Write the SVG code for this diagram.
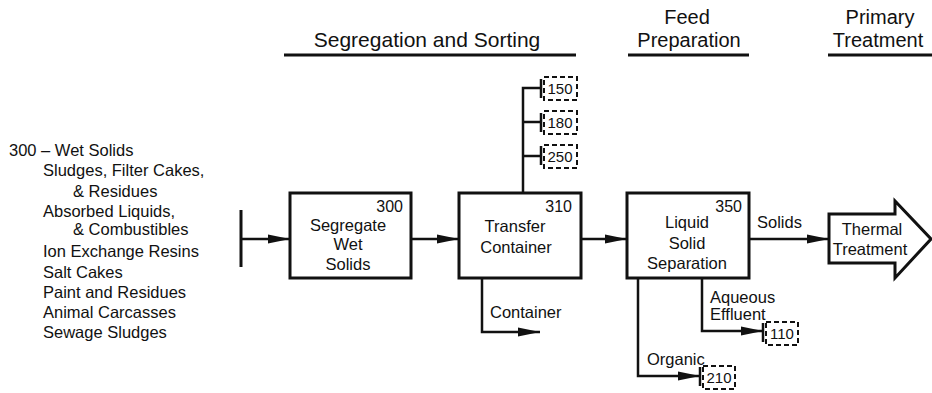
<svg xmlns="http://www.w3.org/2000/svg" width="932" height="393" viewBox="0 0 932 393">
<defs>
<style>
text{font-family:"Liberation Sans",Arial,sans-serif;fill:#111}
.hd{font-size:21px}
.hd2{font-size:20px}
.t{font-size:16.5px}
.n{font-size:16px}
.sm{font-size:15px}
.box{fill:#fff;stroke:#111;stroke-width:3}
.ln{fill:none;stroke:#111;stroke-width:2.5}
.ul{stroke:#111;stroke-width:3}
.dash{fill:none;stroke:#111;stroke-width:2;stroke-dasharray:5 3}
.tick{stroke:#111;stroke-width:2.5}
</style>
<marker id="ah" markerUnits="userSpaceOnUse" markerWidth="22" markerHeight="10" refX="22" refY="5" orient="auto">
<path d="M0,0.5 L22,5 L0,9.5 z" fill="#111"/>
</marker>
</defs>
<rect width="932" height="393" fill="#fff"/>

<g id="headers">
<text class="hd" x="427" y="47" text-anchor="middle">Segregation and Sorting</text>
<line class="ul" x1="284" y1="55" x2="576" y2="55"/>
<text class="hd2" x="687" y="24" text-anchor="middle">Feed</text>
<text class="hd2" x="689" y="47" text-anchor="middle">Preparation</text>
<line class="ul" x1="628" y1="55" x2="749" y2="55"/>
<text class="hd2" x="880" y="24" text-anchor="middle">Primary</text>
<text class="hd2" x="878" y="47" text-anchor="middle">Treatment</text>
<line class="ul" x1="828" y1="55" x2="932" y2="55"/>
</g>

<g id="input-list">
<text class="t" x="9" y="156">300 – Wet Solids</text>
<text class="t" x="43" y="176">Sludges, Filter Cakes,</text>
<text class="t" x="73" y="197">&amp; Residues</text>
<text class="t" x="43" y="217">Absorbed Liquids,</text>
<text class="t" x="73" y="235">&amp; Combustibles</text>
<text class="t" x="43" y="257">Ion Exchange Resins</text>
<text class="t" x="43" y="278">Salt Cakes</text>
<text class="t" x="43" y="298">Paint and Residues</text>
<text class="t" x="43" y="318">Animal Carcasses</text>
<text class="t" x="43" y="338">Sewage Sludges</text>
</g>

<g id="node-300">
<rect class="box" x="290" y="193" width="121" height="85"/>
<text class="n" x="403" y="212" text-anchor="end">300</text>
<text class="t" x="348" y="231" text-anchor="middle">Segregate</text>
<text class="t" x="348" y="250" text-anchor="middle">Wet</text>
<text class="t" x="348" y="270" text-anchor="middle">Solids</text>
</g>

<g id="node-310">
<rect class="box" x="459" y="193" width="122" height="85"/>
<text class="n" x="572" y="212" text-anchor="end">310</text>
<text class="t" x="515" y="232" text-anchor="middle">Transfer</text>
<text class="t" x="516" y="253" text-anchor="middle">Container</text>
</g>

<g id="node-350">
<rect class="box" x="627" y="193" width="122" height="85"/>
<text class="n" x="742" y="212" text-anchor="end">350</text>
<text class="t" x="687" y="228" text-anchor="middle">Liquid</text>
<text class="t" x="687" y="249" text-anchor="middle">Solid</text>
<text class="t" x="687" y="269" text-anchor="middle">Separation</text>
</g>

<g id="node-thermal">
<polygon points="829,214 895,214 895,201 931,239 895,278 895,263 829,263" fill="#fff" stroke="#111" stroke-width="3" stroke-linejoin="miter"/>
<text class="t" x="872" y="235" text-anchor="middle">Thermal</text>
<text class="t" x="870" y="255" text-anchor="middle">Treatment</text>
</g>

<g id="ref-150">
<line class="tick" x1="541" y1="79" x2="541" y2="98"/>
<rect class="dash" x="544" y="77" width="33" height="23"/>
<text class="sm" x="560" y="94" text-anchor="middle">150</text>
</g>
<g id="ref-180">
<line class="tick" x1="541" y1="113" x2="541" y2="132"/>
<rect class="dash" x="544" y="111" width="33" height="23"/>
<text class="sm" x="560" y="128" text-anchor="middle">180</text>
</g>
<g id="ref-250">
<line class="tick" x1="541" y1="146" x2="541" y2="165"/>
<rect class="dash" x="544" y="145" width="33" height="23"/>
<text class="sm" x="560" y="162" text-anchor="middle">250</text>
</g>
<g id="ref-110">
<line class="tick" x1="763" y1="323" x2="763" y2="342"/>
<rect class="dash" x="766" y="322" width="32" height="23"/>
<text class="sm" x="782" y="339" text-anchor="middle">110</text>
</g>
<g id="ref-210">
<line class="tick" x1="700" y1="367" x2="700" y2="386"/>
<rect class="dash" x="703" y="366" width="32" height="23"/>
<text class="sm" x="719" y="383" text-anchor="middle">210</text>
</g>

<g id="connectors">
<line x1="241" y1="210" x2="241" y2="267" stroke="#111" stroke-width="3"/>
<line class="ln" x1="241" y1="239" x2="290" y2="239" marker-end="url(#ah)"/>
<line class="ln" x1="411" y1="239" x2="459" y2="239" marker-end="url(#ah)"/>
<line class="ln" x1="581" y1="239" x2="627" y2="239" marker-end="url(#ah)"/>
<line class="ln" x1="749" y1="239" x2="829" y2="239" marker-end="url(#ah)"/>
<path class="ln" d="M523,193 V88 H541 M523,122 H541 M523,156 H541"/>
<path class="ln" d="M482,278 V332 H540" marker-end="url(#ah)"/>
<path class="ln" d="M702,278 V331 H763" marker-end="url(#ah)"/>
<path class="ln" d="M638,278 V376 H700" marker-end="url(#ah)"/>
</g>

<g id="labels">
<text class="t" x="757" y="228">Solids</text>
<text class="t" x="490" y="318">Container</text>
<text class="t" x="710" y="303">Aqueous</text>
<text class="t" x="710" y="320">Effluent</text>
<text class="t" x="647" y="365">Organic</text>
</g>
</svg>
